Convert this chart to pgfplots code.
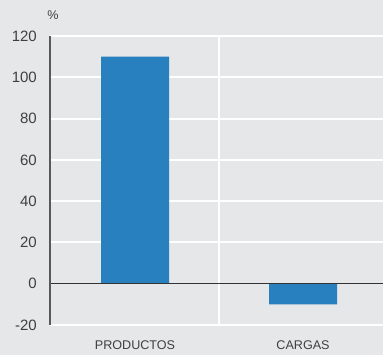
\documentclass[border=0pt]{standalone}
\usepackage{fontspec}
\setmainfont{Liberation Sans}
\usepackage{pgfplots}
\pgfplotsset{compat=1.18}
\definecolor{bg}{HTML}{E6E7E8}
\definecolor{barblue}{HTML}{2980BF}
\definecolor{txt}{HTML}{3F3F3F}
\begin{document}
\begin{tikzpicture}
\useasboundingbox (0,0) rectangle (383pt,355pt);
\fill[bg] (0,0) rectangle (383pt,355pt);
\begin{axis}[
  at={(50pt,30pt)}, anchor=south west,
  scale only axis, width=333pt, height=289pt,
  xmin=-0.506, xmax=1.476, ymin=-20, ymax=120,
  ytick={-20,0,20,40,60,80,100,120},
  xtick={0,1}, xticklabels={PRODUCTOS,CARGAS},
  axis line style={draw=none},
  major tick length=0pt,
  /pgf/number format/assume math mode=true,
  yticklabel style={font=\fontsize{15}{18}\selectfont, text=txt, inner sep=0pt, anchor=east, xshift=-13pt},
  xticklabel style={font=\fontsize{12.6}{15}\selectfont, text=txt, inner sep=0pt, anchor=center, yshift=-20pt},
  clip=false,
]
\pgfplotsinvokeforeach{-20,20,40,60,80,100,120}{
  \fill[white] ([yshift=-1pt]axis cs:-0.506,#1) rectangle ([yshift=1pt]axis cs:1.476,#1);
}
\fill[white] ([xshift=-1pt]axis cs:0.5,-20) rectangle ([xshift=1pt]axis cs:0.5,120);
\addplot[ybar, bar width=68pt, fill=barblue, draw=none] coordinates {(0,110) (1,-10)};
\fill[black!80] ([yshift=-0.5pt]axis cs:-0.506,0) rectangle ([yshift=0.5pt]axis cs:1.476,0);
\fill[black!65] ([xshift=-0.7pt]axis cs:-0.506,-20) rectangle ([xshift=0.7pt]axis cs:-0.506,120);
\node[text=txt, font=\fontsize{12.6}{15}\selectfont, inner sep=0pt] at (axis cs:-0.506,120) [yshift=21pt, xshift=3pt] {\%};
\end{axis}
\end{tikzpicture}
\end{document}
